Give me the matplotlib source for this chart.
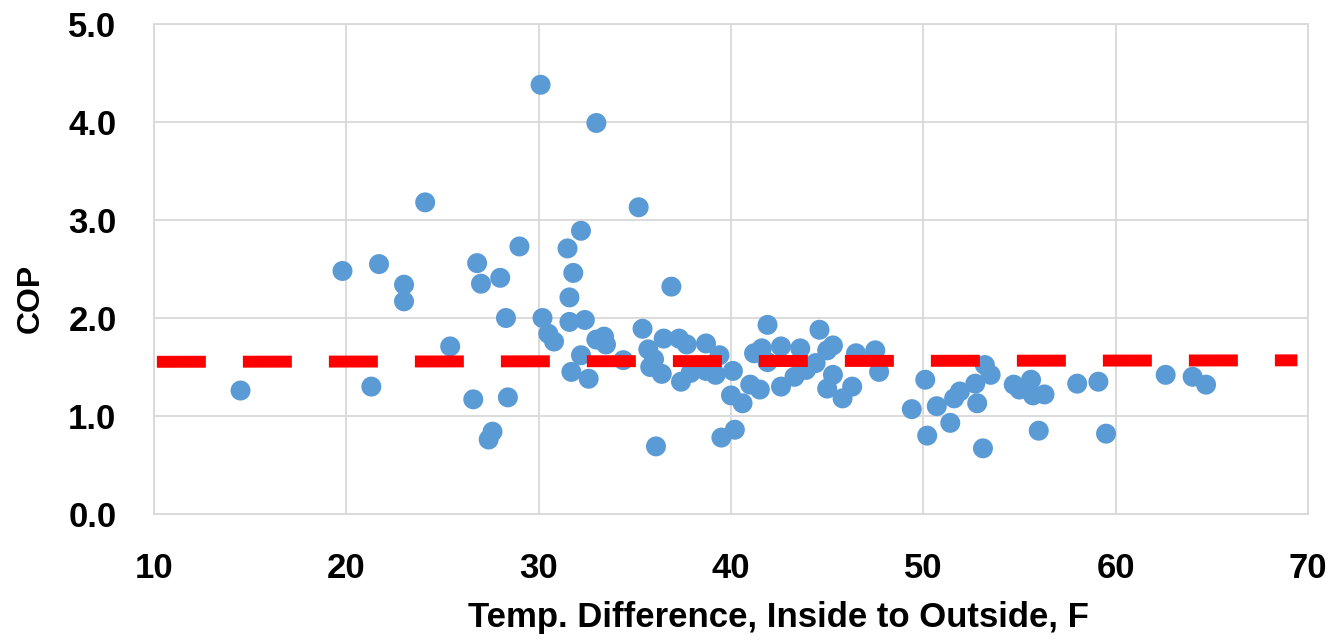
import numpy as np
import matplotlib.pyplot as plt

# --- DADOS ---
dif_temp = [14.5, 19.8, 21.3, 21.7, 23.0, 23.0, 24.1, 25.4, 26.6, 26.8,
            27.0, 27.4, 27.6, 28.0, 28.3, 28.4, 29.0, 30.1, 30.2, 30.5,
            30.8, 31.5, 31.6, 31.8, 31.6, 31.7, 32.2, 32.4, 32.2, 32.6,
            33.0, 33.0, 33.4, 33.5, 34.4, 35.2, 35.4, 35.7, 36.0, 35.8,
            36.1, 36.4, 36.5, 36.9, 37.3, 37.7, 37.4, 37.9, 38.7, 38.7,
            39.2, 39.4, 39.5, 40.1, 40.0, 40.2, 40.6, 41.0, 41.5, 41.9,
            41.2, 41.6, 41.9, 42.6, 42.6, 43.6, 43.3, 43.9, 44.4, 44.6,
            45.0, 45.3, 45.3, 45.0, 45.8, 46.3, 46.5, 47.5, 47.7, 49.4,
            50.1, 50.2, 50.7, 51.4, 51.6, 51.9, 52.7, 52.8, 53.2, 53.5,
            53.1, 54.7, 55.0, 55.6, 55.7, 56.3, 56.0, 58.0, 59.1, 59.5,
            62.6, 64.0, 64.7]
cop = [1.26, 2.48, 1.30, 2.55, 2.34, 2.17, 3.18, 1.71, 1.17, 2.56,
       2.35, 0.76, 0.84, 2.41, 2.00, 1.19, 2.73, 4.38, 2.00, 1.84,
       1.76, 2.71, 2.21, 2.46, 1.96, 1.45, 2.89, 1.98, 1.62, 1.38,
       3.99, 1.78, 1.81, 1.73, 1.57, 3.13, 1.89, 1.68, 1.58, 1.50,
       0.69, 1.43, 1.79, 2.32, 1.79, 1.73, 1.35, 1.44, 1.74, 1.46,
       1.42, 1.62, 0.78, 1.46, 1.21, 0.86, 1.13, 1.32, 1.27, 1.93,
       1.64, 1.69, 1.55, 1.71, 1.30, 1.69, 1.40, 1.47, 1.54, 1.88,
       1.67, 1.72, 1.42, 1.28, 1.18, 1.30, 1.64, 1.67, 1.45, 1.07,
       1.37, 0.80, 1.10, 0.93, 1.18, 1.25, 1.33, 1.13, 1.52, 1.42,
       0.67, 1.32, 1.27, 1.37, 1.21, 1.22, 0.85, 1.33, 1.35, 0.82,
       1.42, 1.40, 1.32]

# linha de tendência (extremos)
tend_x = [10.15, 69.45]
tend_y = [1.553, 1.568]

xticks = [10, 20, 30, 40, 50, 60, 70]
yticks = [0.0, 1.0, 2.0, 3.0, 4.0, 5.0]

fonte = ['Liberation Sans', 'DejaVu Sans']

# --- GRÁFICO ---
fig = plt.figure(figsize=(13.34, 6.44), dpi=100)
ax = fig.add_axes([154/1334, 1 - 514/644, (1308 - 154)/1334, (514 - 24)/644])

ax.scatter(dif_temp, cop, s=207, color='#5b9bd5', edgecolors='none', zorder=3)
ax.plot(tend_x, tend_y, color='#ff0000', linewidth=8.6, dashes=(4.1, 3.1),
        solid_capstyle='butt', dash_capstyle='butt', zorder=4)

ax.set_xlim(10, 70)
ax.set_ylim(0, 5)
ax.set_xticks(xticks)
ax.set_yticks(yticks)
ax.set_xticklabels([str(t) for t in xticks])
ax.set_yticklabels([f'{t:.1f}' for t in yticks])
ax.grid(True, color='#d9d9d9', linewidth=1.3, zorder=0)
ax.set_axisbelow(True)
for lado in ax.spines.values():
    lado.set_color('#d9d9d9')
    lado.set_linewidth(1.3)
ax.tick_params(length=0, pad=27)
for rot in ax.get_xticklabels() + ax.get_yticklabels():
    rot.set_family(fonte)
    rot.set_fontweight('bold')
    rot.set_fontsize(25)

ax.set_xlabel('Temp. Difference, Inside to Outside, F', family=fonte,
              fontweight='bold', fontsize=25, labelpad=12, x=0.541)
ax.set_ylabel('COP', family=fonte, fontweight='bold', fontsize=23, labelpad=16, y=0.44)

plt.savefig('out.png', dpi=100)
